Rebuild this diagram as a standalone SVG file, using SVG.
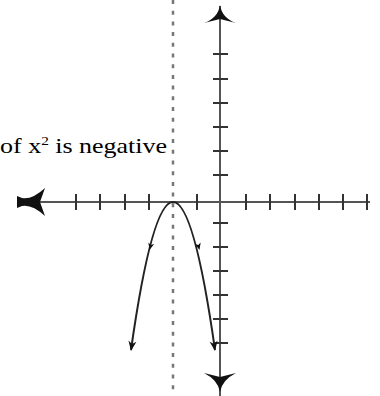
<svg xmlns="http://www.w3.org/2000/svg" xmlns:xlink="http://www.w3.org/1999/xlink" width="380" height="396" viewBox="0 0 380 396">
<style>
.axis{stroke:#555;stroke-width:2;fill:none}
.tick{stroke:#333;stroke-width:2}
.sym{stroke:#777;stroke-width:2.5;stroke-dasharray:4 6.7;fill:none}
.curve{stroke:#222;stroke-width:2;fill:none}
.head{fill:#111}
.lbl{font-family:"Liberation Serif","Times New Roman",serif;font-size:22px;fill:#000}
</style>
<defs>
<path id="ah" d="M0,0 L-10,-4 L-7,0 L-10,4 Z"/>
<path id="mh" d="M2,0 L-5,-3 L-3,0 L-5,3 Z"/>
</defs>
<rect width="380" height="396" fill="#fff"/>
<g id="symmetry-line">
<line class="sym" x1="173" y1="0" x2="173" y2="396"/>
</g>
<g id="x-axis">
<line class="axis" x1="18" y1="202" x2="370" y2="202"/>
<g class="tick">
<line x1="76" y1="194" x2="76" y2="210"/><line x1="100" y1="194" x2="100" y2="210"/><line x1="125" y1="194" x2="125" y2="210"/><line x1="149" y1="194" x2="149" y2="210"/><line x1="197" y1="194" x2="197" y2="210"/><line x1="246" y1="194" x2="246" y2="210"/><line x1="270" y1="194" x2="270" y2="210"/><line x1="295" y1="194" x2="295" y2="210"/><line x1="319" y1="194" x2="319" y2="210"/><line x1="343" y1="194" x2="343" y2="210"/><line x1="367" y1="194" x2="367" y2="210"/>
</g>
<path class="head" d="M17,196 L22,198 Q32,200 45,188 L40,202 L45,216 Q32,204 22,206 L17,208 Z"/>
</g>
<g id="y-axis">
<line class="axis" x1="220" y1="6" x2="220" y2="396"/>
<g class="tick">
<line x1="213" y1="54" x2="228" y2="54"/><line x1="213" y1="79" x2="228" y2="79"/><line x1="213" y1="103" x2="228" y2="103"/><line x1="213" y1="127" x2="228" y2="127"/><line x1="213" y1="151" x2="228" y2="151"/><line x1="213" y1="175" x2="228" y2="175"/><line x1="213" y1="223" x2="228" y2="223"/><line x1="213" y1="247" x2="228" y2="247"/><line x1="213" y1="271" x2="228" y2="271"/><line x1="213" y1="295" x2="228" y2="295"/><line x1="213" y1="319" x2="228" y2="319"/><line x1="213" y1="343" x2="228" y2="343"/>
</g>
<path class="head" d="M220,5 Q222,18 236,23 L220,19 L204,23 Q218,18 220,5 Z"/>
<path class="head" d="M220,392 Q222,380 236,373 L220,377 L204,373 Q218,380 220,392 Z"/>
</g>
<g id="parabola">
<path class="curve" d="M131,350 Q173,54 215,350"/>
<use xlink:href="#ah" class="head" transform="translate(131,351) rotate(98)"/>
<use xlink:href="#ah" class="head" transform="translate(215,351) rotate(82)"/>
<use xlink:href="#mh" class="head" transform="translate(150,248) rotate(104.5)"/>
<use xlink:href="#mh" class="head" transform="translate(199,248) rotate(75.5)"/>
</g>
<g id="label">
<text class="lbl" transform="translate(167,153) scale(1.18,1)" x="0" y="0" text-anchor="end">of x<tspan font-size="13" dy="-8">2</tspan><tspan dy="8"> is negative</tspan></text>
</g>
</svg>
